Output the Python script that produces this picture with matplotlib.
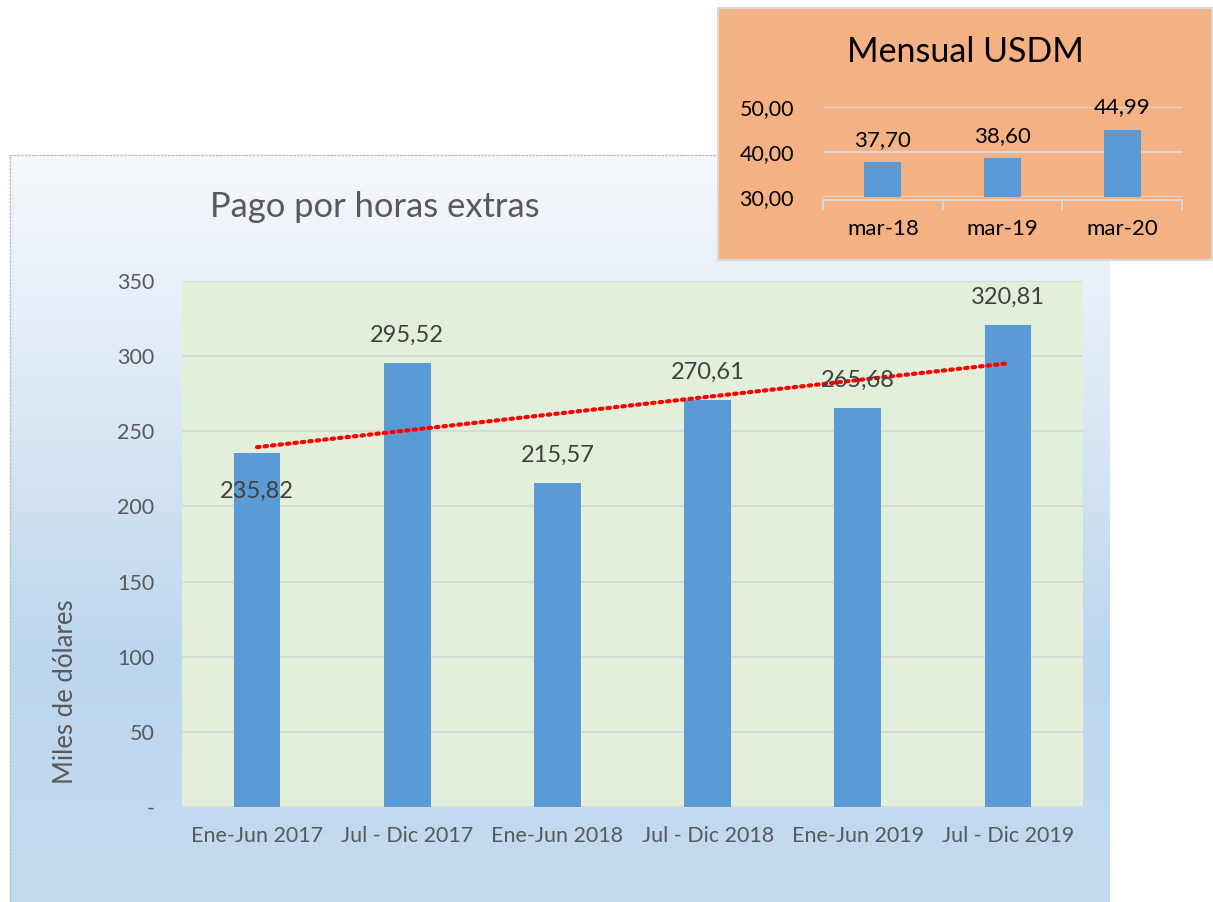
import numpy as np
import matplotlib.pyplot as plt
from matplotlib.colors import LinearSegmentedColormap
from matplotlib.patches import Rectangle
from matplotlib.ticker import FuncFormatter

# main chart data
periodos = ['Ene-Jun 2017', 'Jul - Dic 2017', 'Ene-Jun 2018',
            'Jul - Dic 2018', 'Ene-Jun 2019', 'Jul - Dic 2019']
pagos = [235.82, 295.52, 215.57, 270.61, 265.68, 320.81]
etiquetas = ['235,82', '295,52', '215,57', '270,61', '265,68', '320,81']

# inset data
meses = ['mar-18', 'mar-19', 'mar-20']
mensual = [37.70, 38.60, 44.99]
etiq_mensual = ['37,70', '38,60', '44,99']

plt.rcParams['font.family'] = ['Lato', 'DejaVu Sans']

W, H = 1213, 902
fig = plt.figure(figsize=(W / 100, H / 100), dpi=100)


def box(x0, y0, x1, y1):
    # pixel box (top-left origin) -> figure fraction rect
    return [x0 / W, 1 - y1 / H, (x1 - x0) / W, (y1 - y0) / H]


# gradient background of the chart area
bg = fig.add_axes(box(10, 155, 1110, 902))
cmap = LinearSegmentedColormap.from_list('bg', ['#f6f8fc', '#dce8f5', '#bcd6ee', '#c4dbef'])
grad = np.linspace(0, 1, 256).reshape(-1, 1)
bg.imshow(grad, aspect='auto', cmap=cmap, extent=[0, 1, 0, 1], origin='upper')
bg.set_xlim(0, 1)
bg.set_ylim(0, 1)
bg.set_xticks([])
bg.set_yticks([])
for s in ['right', 'bottom']:
    bg.spines[s].set_visible(False)
for s in ['left', 'top']:
    bg.spines[s].set_color('#bfbfbf')
    bg.spines[s].set_linestyle(':')
    bg.spines[s].set_linewidth(1)

# main plot
ax = fig.add_axes(box(182, 281, 1083, 807))
ax.set_facecolor('#e2efda')
x = np.arange(len(pagos))
ax.bar(x, pagos, width=0.31, color='#5b9bd5', zorder=3)
ax.set_xlim(-0.5, len(pagos) - 0.5)
ax.set_ylim(0, 350)
ax.set_yticks(np.arange(0, 351, 50))
ax.yaxis.set_major_formatter(FuncFormatter(lambda v, p: '-' if v == 0 else f'{int(v)}'))
ax.set_xticks(x)
ax.set_xticklabels(periodos)
ax.grid(axis='y', color='#d9d9d9', linewidth=1.5, zorder=0)
ax.tick_params(length=0, labelsize=15.5, labelcolor='#595959')
ax.tick_params(axis='x', pad=14)
ax.tick_params(axis='y', pad=20)
for s in ['left', 'right', 'top']:
    ax.spines[s].set_visible(False)
ax.spines['bottom'].set_color('#d9d9d9')
ax.spines['bottom'].set_linewidth(1.5)
ax.set_ylabel('Miles de dólares', fontsize=18.5, color='#595959')
ax.yaxis.set_label_coords(-104 / 901, (807 - 692) / 526)

for i, (v, t) in enumerate(zip(pagos, etiquetas)):
    if i == 0:
        ax.annotate(t, (i, v), xytext=(0, -28), textcoords='offset points',
                    ha='center', va='center', fontsize=17, color='#404040', zorder=5)
    else:
        ax.annotate(t, (i, v), xytext=(0, 20), textcoords='offset points',
                    ha='center', va='center', fontsize=17, color='#404040', zorder=5)

# linear trend line
coef = np.polyfit(x, pagos, 1)
ax.plot(x, np.polyval(coef, x), color='#ff0000', linewidth=3,
        linestyle=(0, (0.6, 1.2)), dash_capstyle='round', zorder=4)

fig.text(375 / W, 1 - 207 / H, 'Pago por horas extras', ha='center', va='center',
         fontsize=24.8, color='#595959')

# inset box
fig.patches.append(Rectangle((718 / W, 1 - 260 / H), 494 / W, 252 / H,
                             transform=fig.transFigure, facecolor='#f4b183',
                             edgecolor='#d9d9d9', linewidth=1.5, zorder=5))
ins = fig.add_axes(box(823, 107, 1182, 197))
ins.set_zorder(6)
ins.patch.set_alpha(0)
xi = np.arange(len(mensual))
ins.bar(xi, [m - 30 for m in mensual], bottom=30, width=0.31, color='#5b9bd5', zorder=3)
ins.set_xlim(-0.5, len(mensual) - 0.5)
ins.set_ylim(30, 50)
ins.set_yticks([30, 40, 50])
ins.yaxis.set_major_formatter(FuncFormatter(lambda v, p: f'{v:.2f}'.replace('.', ',')))
ins.grid(axis='y', color='#d9d9d9', linewidth=1.5, zorder=0)
ins.set_xticks(xi)
ins.set_xticklabels(meses)
ins.set_xticks(np.arange(-0.5, len(mensual)), minor=True)
ins.tick_params(axis='x', which='major', length=0, pad=14, labelsize=16)
ins.tick_params(axis='x', which='minor', length=7, width=1.5, color='#d9d9d9', direction='out')
ins.tick_params(axis='y', length=0, pad=21, labelsize=15.5)
for s in ['left', 'right', 'top']:
    ins.spines[s].set_visible(False)
ins.spines['bottom'].set_color('#d9d9d9')
ins.spines['bottom'].set_linewidth(1.5)
ins.spines['bottom'].set_position(('outward', 2))
for i, (v, t) in enumerate(zip(mensual, etiq_mensual)):
    ins.annotate(t, (i, v), xytext=(0, 16), textcoords='offset points',
                 ha='center', va='center', fontsize=16, color='black')

fig.text(965 / W, 1 - 52 / H, 'Mensual USDM', ha='center', va='center',
         fontsize=24.5, color='black', zorder=7)

fig.savefig('out.png', dpi=100)
